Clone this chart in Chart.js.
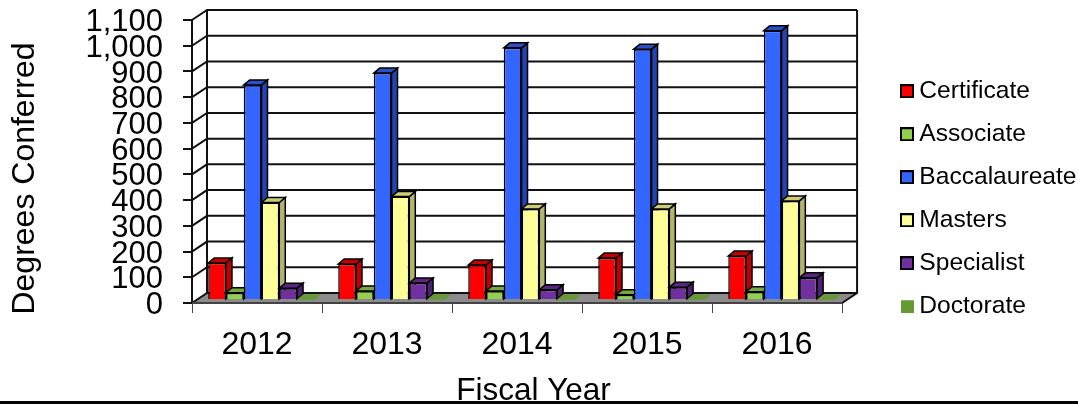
<!DOCTYPE html>
<html>
<head>
<meta charset="utf-8">
<style>
  html, body { margin: 0; padding: 0; background: #fff; }
  #wrap { width: 1078px; height: 405px; }
</style>
</head>
<body>
<div id="wrap"><canvas id="chart" width="1078" height="405"></canvas></div>
<script src="https://cdn.jsdelivr.net/npm/chart.js@4/dist/chart.umd.js"></script>
<script>
const years = ['2012', '2013', '2014', '2015', '2016']
const certificate = [144, 140, 136, 163, 171]
const associate = [28, 35, 35, 20, 32]
const baccalaureate = [836, 882, 980, 975, 1047]
const masters = [379, 402, 354, 354, 385]
const specialist = [46, 66, 40, 50, 86]
const doctorate = [2, 2, 2, 2, 2]

const fontName = '"Liberation Sans", Arial, sans-serif'
const wallX = 15, wallY = -10
const barX = 6, barY = -5, barLift = -3, barShift = 4.5

// front, side, top
const shades = [
  ['#ff0000', '#c00000', '#c80000'],
  ['#92d050', '#6e9c3c', '#76a83f'],
  ['#3366ff', '#2244b0', '#2a50c8'],
  ['#ffff99', '#b3b36b', '#cccc7a'],
  ['#7030a0', '#4e2270', '#5a2680'],
  ['#669933', '#669933', '#669933'],
]

// wider than drawn so the legend can keep its text close to the swatch
const makeSwatch = (fill, outlined) => {
  const c = document.createElement('canvas')
  c.width = 19
  c.height = 14
  const ctx = c.getContext('2d')
  ctx.fillStyle = fill
  if (outlined) {
    ctx.fillRect(4, 1, 12, 12)
    ctx.strokeStyle = '#000'
    ctx.lineWidth = 2
    ctx.strokeRect(4, 1, 12, 12)
  } else {
    ctx.fillRect(4, 1, 13, 13)
  }
  return c
}
const swatches = shades.map((s, i) => makeSwatch(s[0], i < 5))

const series = [
  ['Certificate', certificate],
  ['Associate', associate],
  ['Baccalaureate', baccalaureate],
  ['Masters', masters],
  ['Specialist', specialist],
  ['Doctorate', doctorate],
]

const poly = (ctx, pts, fill, stroke) => {
  ctx.beginPath()
  pts.forEach((p, i) => i ? ctx.lineTo(p[0], p[1]) : ctx.moveTo(p[0], p[1]))
  ctx.closePath()
  ctx.fillStyle = fill
  ctx.fill()
  if (stroke) {
    ctx.strokeStyle = stroke
    ctx.lineWidth = 1.5
    ctx.stroke()
  }
}

const boxPlugin = {
  id: 'box3d',
  afterLayout: (chart) => {
    // legend sits further right and higher than the layout puts it
    const lg = chart.legend
    const h = lg.height
    lg.left = 887.6
    lg.right = lg.left + lg.width
    lg.top = 6.2
    lg.bottom = lg.top + h
  },
  beforeDatasetsDraw: (chart) => {
    const ctx = chart.ctx
    const { left, right } = chart.chartArea
    const y = chart.scales.y
    const floor = y.getPixelForValue(0)

    ctx.save()
    poly(ctx, [[left, floor], [right, floor], [right + wallX, floor + wallY], [left + wallX, floor + wallY]], '#8c8c8c')
    ctx.strokeStyle = '#111'
    ctx.lineWidth = 2
    y.ticks.forEach(t => {
      const py = y.getPixelForValue(t.value)
      ctx.beginPath()
      ctx.moveTo(left, py)
      ctx.lineTo(left + wallX, py + wallY)
      ctx.lineTo(right + wallX, py + wallY)
      ctx.stroke()
    })
    ctx.beginPath()
    ctx.moveTo(left + wallX, y.top + wallY)
    ctx.lineTo(left + wallX, floor + wallY)
    ctx.moveTo(right + wallX, y.top + wallY)
    ctx.lineTo(right + wallX, floor + wallY)
    ctx.lineTo(right, floor)
    ctx.stroke()
    ctx.strokeStyle = '#444'
    ctx.beginPath()
    ctx.moveTo(left, floor)
    ctx.lineTo(right, floor)
    ctx.stroke()

    // left to right so each bar covers the side of the previous one
    ctx.translate(barShift, barLift)
    years.forEach((_, c) => {
      series.forEach((_, d) => {
        const bar = chart.getDatasetMeta(d).data[c]
        const l = bar.x - bar.width / 2, r = bar.x + bar.width / 2
        const stroke = d < 5 ? '#000' : null
        poly(ctx, [[r, bar.y], [r + barX, bar.y + barY], [r + barX, bar.base + barY], [r, bar.base]], shades[d][1], stroke)
        poly(ctx, [[l, bar.y], [l + barX, bar.y + barY], [r + barX, bar.y + barY], [r, bar.y]], shades[d][2], stroke)
        bar.draw(ctx)
      })
    })
    ctx.restore()
    return false
  },
  afterDraw: (chart) => {
    const ctx = chart.ctx
    const { left, right, top, bottom } = chart.chartArea
    ctx.save()
    // axis titles are not centred on the plot in the original
    ctx.fillStyle = '#000'
    ctx.textAlign = 'center'
    ctx.textBaseline = 'alphabetic'
    ctx.font = `31.5px ${fontName}`
    ctx.fillText('Fiscal Year', (left + right) / 2 + 16.5, 400)
    ctx.translate(34, (top + bottom) / 2 + 17)
    ctx.rotate(-Math.PI / 2)
    ctx.font = `32px ${fontName}`
    ctx.fillText('Degrees Conferred', 0, 0)
    ctx.restore()
    ctx.fillStyle = '#000'
    ctx.fillRect(0, 401, chart.width, 3)
  },
}

new Chart(document.getElementById('chart'), {
  type: 'bar',
  data: {
    labels: years,
    datasets: series.map((s, i) => ({
      label: s[0],
      data: s[1],
      backgroundColor: shades[i][0],
      borderColor: '#000',
      borderWidth: i < 5 ? 1.5 : 0,
      categoryPercentage: 0.82,
      barPercentage: 1,
    })),
  },
  options: {
    responsive: false,
    animation: false,
    layout: { padding: { top: 20, right: 37, bottom: 0, left: 0 } },
    scales: {
      y: {
        min: 0,
        max: 1100,
        afterFit: (scale) => {
          scale.width = 192
          // tick padding would otherwise push the plot down
          scale.paddingTop = 0
          scale.paddingBottom = 0
        },
        ticks: {
          stepSize: 100,
          autoSkip: false,
          color: '#000',
          padding: 20,
          labelOffset: 2.5,
          font: { family: fontName, size: 31 },
        },
        grid: { drawOnChartArea: false, color: '#111', lineWidth: 2, tickLength: 9 },
        border: { color: '#111', width: 2 },
      },
      x: {
        afterFit: (scale) => { scale.height = 102 },
        ticks: {
          color: '#000',
          padding: 13,
          maxRotation: 0,
          font: { family: fontName, size: 32 },
        },
        grid: { drawOnChartArea: false, color: '#444', lineWidth: 1, tickLength: 10 },
        border: { display: false },
      },
    },
    plugins: {
      tooltip: { enabled: false },
      legend: {
        position: 'right',
        labels: {
          usePointStyle: true,
          boxWidth: 1,
          padding: 18.4,
          color: '#000',
          font: { family: fontName, size: 24.6 },
          generateLabels: (chart) => Chart.defaults.plugins.legend.labels.generateLabels(chart)
            .map((item, i) => ({ ...item, pointStyle: swatches[i] })),
        },
      },
    },
  },
  plugins: [boxPlugin],
})
</script>
</body>
</html>
